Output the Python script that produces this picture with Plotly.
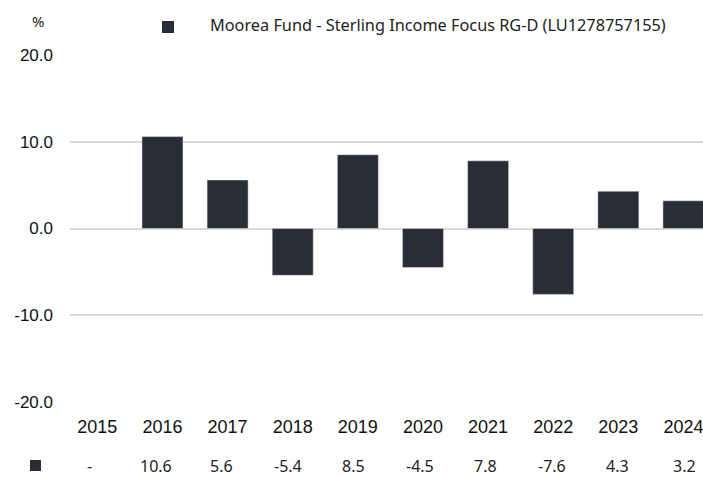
import plotly.graph_objects as go

years = ["2015", "2016", "2017", "2018", "2019", "2020", "2021", "2022", "2023", "2024"]
returns = [None, 10.6, 5.6, -5.4, 8.5, -4.5, 7.8, -7.6, 4.3, 3.2]
series_name = "Moorea Fund - Sterling Income Focus RG-D (LU1278757155)"
y_ticks = [-20, -10, 0, 10, 20]
y_tick_text = ["-20.0", "-10.0", "0.0", "10.0", "20.0"]
bar_color = "#2b2d36"

W, H = 703, 477
ml, mr, mt, mb = 70, 0, 55, 75
pw, ph = W - ml - mr, H - mt - mb

fig = go.Figure()
fig.add_trace(go.Bar(x=years, y=returns, marker_color=bar_color, name=series_name,
                     showlegend=False))

# table row of values below axis (table columns on their own grid)
col0, col_step = 89.5, 66.06
for i, v in enumerate(returns):
    txt = "-" if v is None else f"{v:.1f}"
    fig.add_annotation(x=(col0 + col_step * i - ml) / pw, y=(H - mb - 466) / ph,
                       xref="paper", yref="paper",
                       text=txt, showarrow=False, xanchor="center", yanchor="middle",
                       font=dict(family="Noto Sans", size=16, color="#222"))

# table row marker
fig.add_shape(type="rect", xref="paper", yref="paper",
              x0=(30 - ml) / pw, x1=(41 - ml) / pw,
              y0=(H - mb - 471) / ph, y1=(H - mb - 460) / ph,
              fillcolor=bar_color, line_width=0)
# legend marker
fig.add_shape(type="rect", xref="paper", yref="paper",
              x0=(162 - ml) / pw, x1=(174 - ml) / pw,
              y0=(H - mb - 33) / ph, y1=(H - mb - 21) / ph,
              fillcolor=bar_color, line_width=0)
fig.add_annotation(x=(208 - ml) / pw, y=(H - mb - 25) / ph,
                   xref="paper", yref="paper", text=series_name, showarrow=False,
                   xanchor="left", yanchor="middle",
                   font=dict(family="Noto Sans", size=16.3, color="#222"))
fig.add_annotation(x=(38 - ml) / pw, y=(H - mb - 21) / ph,
                   xref="paper", yref="paper", text="%", showarrow=False,
                   xanchor="center", yanchor="middle",
                   font=dict(family="Noto Sans", size=15, color="#222"))

fig.update_layout(
    width=W, height=H,
    margin=dict(l=ml, r=mr, t=mt, b=mb),
    plot_bgcolor="white", paper_bgcolor="white",
    bargap=0.37,
    xaxis=dict(type="category", range=[-0.42, 9.30],
               showgrid=False, zeroline=False, showline=False,
               ticks="", tickfont=dict(family="Liberation Sans", size=18, color="#111"),
               ticklabelstandoff=12),
    yaxis=dict(range=[-20, 20], tickvals=y_ticks, ticktext=y_tick_text,
               showgrid=True, gridcolor="#d9d9d9", gridwidth=1.5,
               zeroline=False, showline=False, ticks="",
               tickfont=dict(family="Liberation Sans", size=17, color="#111"),
               ticklabelstandoff=16),
    showlegend=False,
)

fig.write_html("out.html")
